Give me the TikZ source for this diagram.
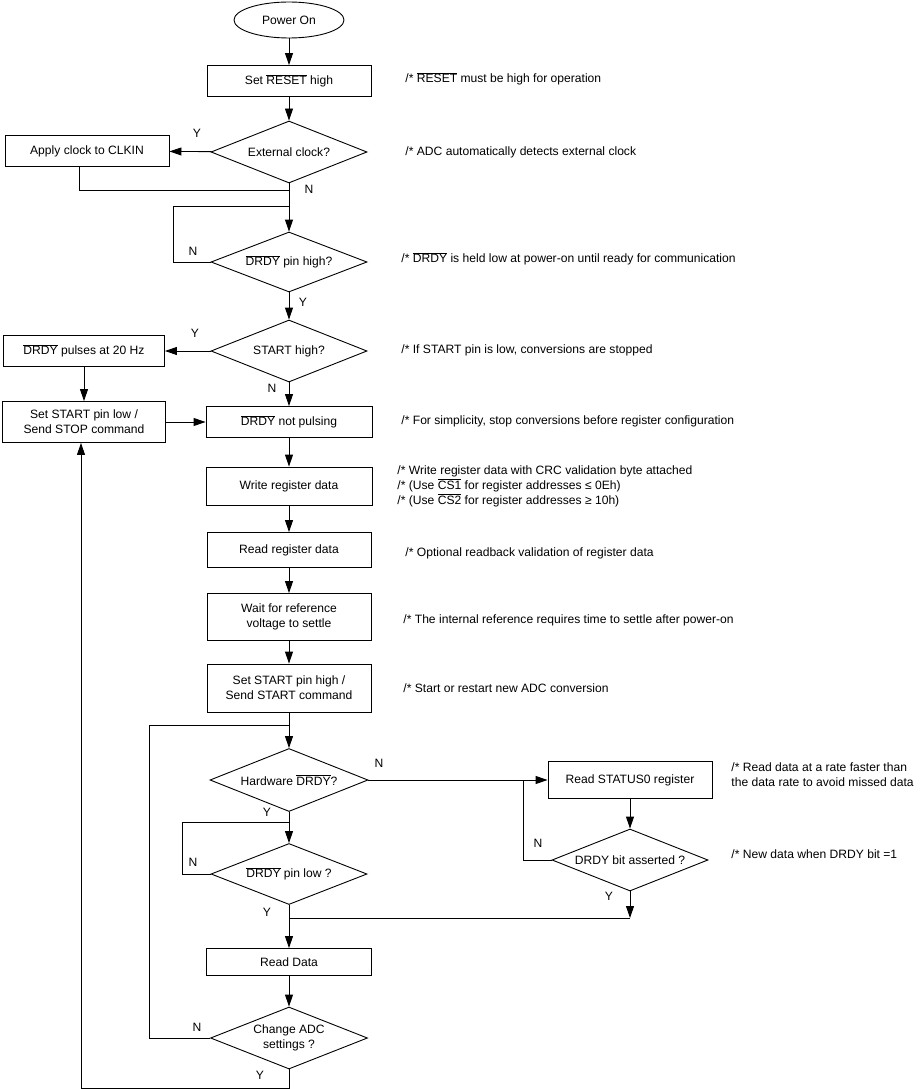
\documentclass[tikz,border=0pt]{standalone}
\usepackage{fontspec}
\setmainfont{Liberation Sans}
\usetikzlibrary{shapes.geometric,arrows.meta}
\newcommand{\ovl}[1]{$\overline{\hbox{#1}}$}
\begin{document}
\begin{tikzpicture}[x=1pt, y=-1pt, line width=0.9pt, line join=miter, >={Triangle[length=12pt,width=8pt]},
		font=\fontsize{12.1}{15}\selectfont,
		box/.style={draw, rectangle, inner sep=0pt, align=center, minimum width=164pt, minimum height=#1},
		box/.default=31pt,
		dec/.style={draw, diamond, aspect=2.5, inner sep=0pt, align=center, minimum width=156pt, minimum height=62pt},
		note/.style={anchor=west, align=left, inner sep=0pt},
		yn/.style={inner sep=0pt}]
			\useasboundingbox (0,0) rectangle (920,1089);
			% main column
			\node[draw, ellipse, minimum width=110pt, minimum height=36pt, inner sep=0pt] (pwr) at (289,20) {Power On};
			\node[box] (rst) at (289,81) {Set \ovl{RESET} high};
			\node[dec] (extclk) at (289,152) {External clock?};
			\node[box] (clkin) at (87,151) {Apply clock to CLKIN};
			\node[dec, minimum height=60pt] (drdyhi) at (289,262) {\ovl{DRDY} pin high?};
			\node[dec] (starthi) at (289,351) {START high?};
			\node[box, minimum width=161pt] (pulses) at (84,351) {\ovl{DRDY} pulses at 20 Hz};
			\node[box=41pt, minimum width=163pt] (stoplow) at (84,422) {Set START pin low /\\Send STOP command};
			\node[box, minimum width=166pt] (notpuls) at (289,422) {\ovl{DRDY} not pulsing};
			\node[box=38pt, minimum width=166pt] (wreg) at (289,486) {Write register data};
			\node[box=35pt] (rreg) at (289,550) {Read register data};
			\node[box=47pt] (waitref) at (289,617) {Wait for reference\\voltage to settle};
			\node[box=48pt] (starton) at (289,688) {Set START pin high /\\Send START command};
			\node[dec, minimum width=158pt, minimum height=63pt] (hwdrdy) at (289,780) {Hardware \ovl{DRDY}?};
			\node[box=37pt] (status) at (630,780) {Read STATUS0 register};
			\node[dec] (bitset) at (630,860) {DRDY bit asserted ?};
			\node[dec, minimum height=61pt] (drdylo) at (289,874) {\ovl{DRDY} pin low ?};
			\node[box=27pt, minimum width=165pt] (rdata) at (289,962) {Read Data};
			\node[dec, minimum width=157pt] (change) at (289,1038) {Change ADC\\settings ?};
			% junctions
			\coordinate (j1) at (289,190);
			\coordinate (j2) at (289,206);
			\coordinate (j3) at (289,725);
			\coordinate (j4) at (523,780);
			\coordinate (j5) at (630,918);
			\coordinate (j6) at (289,918);
			\coordinate (j7) at (289,822);
			% connectors
			\draw[->] (pwr) -- (rst);
			\draw[->] (rst) -- (extclk);
			\draw[->] (extclk) -- (clkin);
			\draw ([xshift=-8pt]clkin.south) |- (j1);
			\draw[->] (extclk) -- (drdyhi);
			\draw (drdyhi.west) -- (173,262) |- (j2);
			\draw[->] (drdyhi) -- (starthi);
			\draw[->] (starthi) -- (pulses);
			\draw[->] (starthi) -- (notpuls);
			\draw[->] (pulses) -- (stoplow);
			\draw[->] (stoplow) -- (notpuls);
			\draw[->] (notpuls) -- (wreg);
			\draw[->] (wreg) -- (rreg);
			\draw[->] (rreg) -- (waitref);
			\draw[->] (waitref) -- (starton);
			\draw[->] (starton) -- (hwdrdy);
			\draw[->] (hwdrdy) -- (status);
			\draw[->] (status) -- (bitset);
			\draw (bitset.west) -| (j4);
			\draw[->] (bitset) -- (j5);
			\draw (j5) -- (j6);
			\draw[->] (hwdrdy) -- (drdylo);
			\draw (drdylo.west) -- (182,874) |- (j7);
			\draw[->] (drdylo) -- (rdata);
			\draw[->] (rdata) -- (change);
			\draw (change.west) -- (149,1038) |- (j3);
			\draw[->] (change.south) -- (289,1088) -| ([xshift=-3pt]stoplow.south);
			% Y / N labels
			\node[yn] (y1) at (197,133) {Y};
			\node[yn] (n1) at (309,189) {N};
			\node[yn] (n2) at (193,251) {N};
			\node[yn] (y2) at (303,302) {Y};
			\node[yn] (y3) at (195,333) {Y};
			\node[yn] (n3) at (272,388) {N};
			\node[yn] (n4) at (379,763) {N};
			\node[yn] (y4) at (267,812) {Y};
			\node[yn] (n5) at (193,862) {N};
			\node[yn] (y5) at (267,912) {Y};
			\node[yn] (n6) at (538,843) {N};
			\node[yn] (y6) at (609,896) {Y};
			\node[yn] (n7) at (197,1027) {N};
			\node[yn] (y7) at (260,1075) {Y};
			% comments
			\node[note] (crst) at (405,79) {/* \ovl{RESET} must be high for operation};
			\node[note] (cclk) at (405,152) {/* ADC automatically detects external clock};
			\node[note] (cdrdy) at (401,259) {/* \ovl{DRDY} is held low at power-on until ready for communication};
			\node[note] (cstart) at (401,350) {/* If START pin is low, conversions are stopped};
			\node[note] (cstop) at (401,421) {/* For simplicity, stop conversions before register configuration};
			\node[note] (cwreg) at (397,486) {/* Write register data with CRC validation byte attached\\/* (Use \ovl{CS1} for register addresses ≤ 0Eh)\\/* (Use \ovl{CS2} for register addresses ≥ 10h)};
			\node[note] (crreg) at (405,553) {/* Optional readback validation of register data};
			\node[note] (cref) at (403,620) {/* The internal reference requires time to settle after power-on};
			\node[note] (cconv) at (403,688) {/* Start or restart new ADC conversion};
			\node[note] (cstatus) at (731,775) {/* Read data at a rate faster than\\the data rate to avoid missed data};
			\node[note] (cbit) at (731,854) {/* New data when DRDY bit =1};
		\end{tikzpicture}
\end{document}
